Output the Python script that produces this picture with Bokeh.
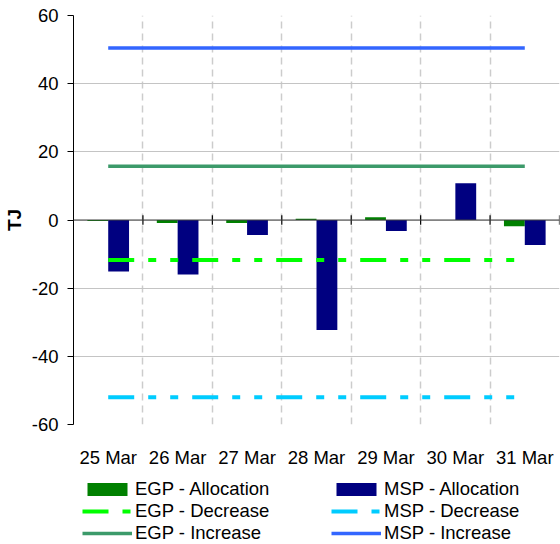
import numpy as np
from bokeh.plotting import figure
from bokeh.layouts import column
from bokeh.models import (Range1d, FixedTicker, Span, Legend, LegendItem, ColumnDataSource)
from bokeh.transform import dodge
from bokeh.embed import file_html
from bokeh.resources import INLINE

# ---- data ----
categories = ["25 Mar", "26 Mar", "27 Mar", "28 Mar", "29 Mar", "30 Mar", "31 Mar"]
egp_allocation = [-0.3, -0.9, -0.9, 0.4, 0.8, 0.0, -1.8]
msp_allocation = [-15.1, -16.0, -4.4, -32.3, -3.2, 10.8, -7.3]
egp_decrease = [-11.7] * 7
msp_decrease = [-52.0] * 7
egp_increase = [15.8] * 7
msp_increase = [50.5] * 7
y_ticks = [-60, -40, -20, 0, 20, 40, 60]
y_tick_labels = ["-60", "-40", "-20", "0", "20", "40", "60"]
series_labels = ["EGP - Allocation", "EGP - Decrease", "EGP - Increase",
                 "MSP - Allocation", "MSP - Decrease", "MSP - Increase"]

FONT = "Liberation Sans"
FS = "18.5px"
C_EGP, C_MSP = "#008000", "#000080"
C_EGP_DEC, C_MSP_DEC = "#00ff00", "#00ccff"
C_EGP_INC, C_MSP_INC = "#3c9a6a", "#3366ff"
DASH = "26 14 8 14 8 14"

n = len(categories)
centers = np.arange(n) + 0.5
boundaries = np.arange(1, n + 1)
src = ColumnDataSource(dict(x=centers, egp=egp_allocation, msp=msp_allocation,
                            egp_dec=egp_decrease, msp_dec=msp_decrease,
                            egp_inc=egp_increase, msp_inc=msp_increase))


def draw_series(fig):
    """Draw all six series on a figure; returns the renderers in legend order."""
    r1 = fig.vbar(x=dodge("x", -0.15), top="egp", bottom=0, width=0.3, source=src,
                  fill_color=C_EGP, line_color=None)
    r4 = fig.vbar(x=dodge("x", 0.15), top="msp", bottom=0, width=0.3, source=src,
                  fill_color=C_MSP, line_color=None)
    r2 = fig.line("x", "egp_dec", source=src, line_color=C_EGP_DEC, line_width=4, line_dash=DASH)
    r5 = fig.line("x", "msp_dec", source=src, line_color=C_MSP_DEC, line_width=4, line_dash=DASH)
    r3 = fig.line("x", "egp_inc", source=src, line_color=C_EGP_INC, line_width=3.5)
    r6 = fig.line("x", "msp_inc", source=src, line_color=C_MSP_INC, line_width=3.5)
    return [r1, r2, r3, r4, r5, r6]


p = figure(width=560, height=470, output_backend="svg", toolbar_location=None,
           x_range=Range1d(0, n), y_range=Range1d(-60, 60),
           min_border_left=73, min_border_right=1, min_border_top=15, min_border_bottom=43)
p.outline_line_color = None
p.background_fill_color = "white"
p.border_fill_color = "white"

# grids
p.ygrid.ticker = FixedTicker(ticks=y_ticks)
p.ygrid.grid_line_color = "#c4c4c4"
p.ygrid.grid_line_width = 1
p.xgrid.ticker = FixedTicker(ticks=list(boundaries))
p.xgrid.grid_line_color = "#cccccc"
p.xgrid.grid_line_width = 1.5
p.xgrid.grid_line_dash = "7 5"

# y axis
p.yaxis.ticker = FixedTicker(ticks=y_ticks)
p.yaxis.major_label_overrides = {t: s for t, s in zip(y_ticks, y_tick_labels)}
p.yaxis.axis_line_color = "black"
p.yaxis.major_tick_line_color = "black"
p.yaxis.major_tick_out = 6
p.yaxis.major_tick_in = 0
p.yaxis.minor_tick_line_color = None
p.yaxis.major_label_text_font = FONT
p.yaxis.major_label_text_font_size = FS
p.yaxis.major_label_text_color = "black"
p.yaxis.major_label_standoff = 9
p.yaxis.axis_label = "TJ"
p.yaxis.axis_label_text_font = FONT
p.yaxis.axis_label_text_font_style = "bold"
p.yaxis.axis_label_text_font_size = "19px"
p.yaxis.axis_label_text_color = "black"
p.yaxis.axis_label_standoff = 4

# x axis
p.xaxis.ticker = FixedTicker(ticks=list(centers))
p.xaxis.major_label_overrides = {float(c): lab for c, lab in zip(centers, categories)}
p.xaxis.axis_line_color = None
p.xaxis.major_tick_line_color = None
p.xaxis.minor_tick_line_color = None
p.xaxis.major_label_text_font = FONT
p.xaxis.major_label_text_font_size = FS
p.xaxis.major_label_text_color = "black"
p.xaxis.major_label_standoff = 16

# zero line and its ticks
p.add_layout(Span(location=0, dimension="width", line_color="#404040", line_width=1.2))
p.segment(x0=boundaries, x1=boundaries, y0=[-1.4] * n, y1=[1.4] * n,
          line_color="black", line_width=1.2)

draw_series(p)

# ---- legend strip: same series drawn on a view range where they are out of sight ----
lf = figure(width=560, height=74, output_backend="svg", toolbar_location=None,
            x_range=Range1d(0, n), y_range=Range1d(1000, 1001),
            x_axis_type=None, y_axis_type=None, min_border=0)
lf.outline_line_color = None
lf.grid.visible = False
keys = draw_series(lf)

legend = Legend(items=[LegendItem(label=lab, renderers=[k]) for lab, k in zip(series_labels, keys)],
                orientation="vertical", ncols=2, location=(9, 0),
                padding=0, margin=0, spacing=0, border_line_color=None,
                background_fill_alpha=0, glyph_width=50, glyph_height=16,
                label_standoff=3, label_height=20, label_width=196,
                label_text_font=FONT, label_text_font_size=FS, label_text_color="black")
lf.add_layout(legend, "center")

layout = column(p, lf, spacing=0)
open("out.html", "w").write(file_html(layout, INLINE))
